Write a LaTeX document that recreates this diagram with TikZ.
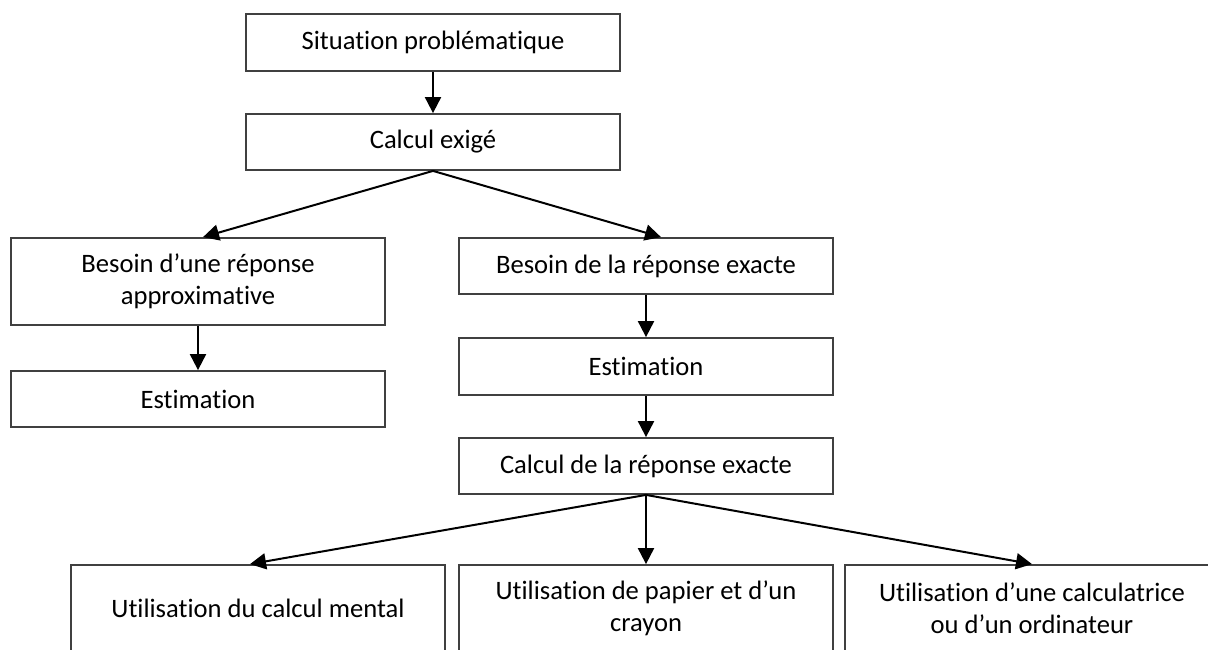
\documentclass[tikz,border=0pt]{standalone}
\usepackage{fontspec}
\setmainfont{Carlito}[Ligatures=CommonOff]
\usetikzlibrary{arrows.meta}

\begin{document}
\begin{tikzpicture}[x=0.5pt, y=-0.5pt,
  box/.style={draw=black!75, line width=0.9pt, minimum width=187pt, align=center,
    inner sep=0pt, font=\fontsize{13.3}{16}\selectfont},
  flow/.style={line width=1pt, -{Triangle[length=8pt, width=8pt]}}]
\useasboundingbox (0,0) rectangle (1208,649);
\clip (0,0) rectangle (1208,649);

\node[box, minimum height=28.5pt] (sit) at (433, 42.5) {Situation problématique};
\node[box, minimum height=28pt] (calc) at (433, 142) {Calcul exigé};

\node[box, minimum height=43.5pt] (approx) at (198, 281.5) {Besoin d’une réponse\\approximative};
\node[box, minimum height=28pt] (est1) at (198, 399) {Estimation};

\node[box, minimum height=28pt] (exact) at (646, 266) {Besoin de la réponse exacte};
\node[box, minimum height=28.5pt] (est2) at (646, 366.5) {Estimation};
\node[box, minimum height=28pt] (calcex) at (646, 466) {Calcul de la réponse exacte};

\node[box, minimum height=43pt] (mental) at (258, 608) {Utilisation du calcul mental};
\node[box, minimum height=43pt] (papier) at (646, 608) {Utilisation de papier et d’un\\crayon};
\node[box, minimum height=43pt] (machine) at (1032, 608) {Utilisation d’une calculatrice\\ou d’un ordinateur};

\draw[flow] (sit) -- (calc);
\draw[flow] (calc.south) -- ([xshift=2.5pt]approx.north);
\draw[flow] (calc.south) -- ([xshift=7.5pt]exact.north);
\draw[flow] (approx) -- (est1);
\draw[flow] (exact) -- (est2);
\draw[flow] (est2) -- (calcex);
\draw[flow] (calcex.south) -- ([xshift=-4pt]mental.north);
\draw[flow] (calcex) -- (papier);
\draw[flow] (calcex.south) -- (machine.north);
\end{tikzpicture}
\end{document}
